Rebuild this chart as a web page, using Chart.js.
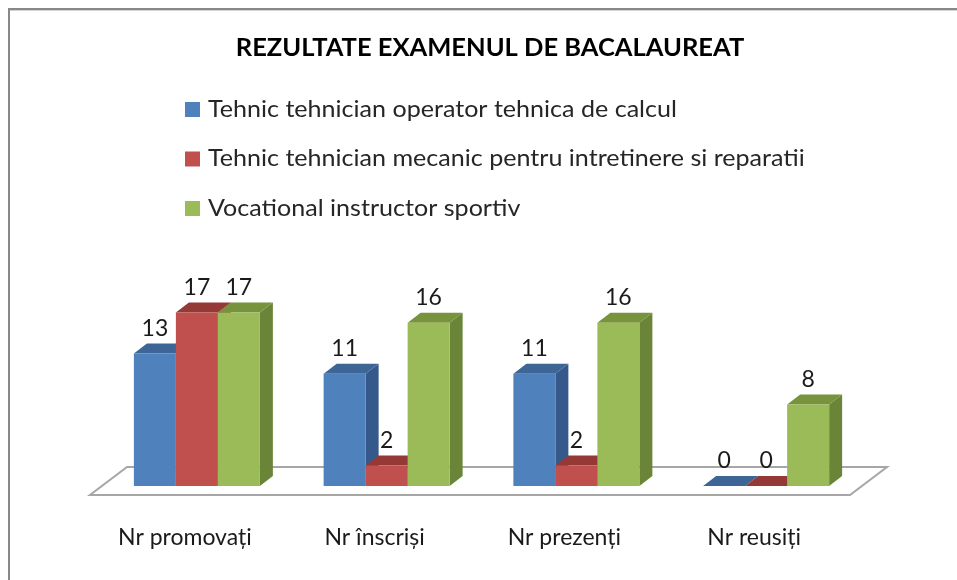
<!DOCTYPE html>
<html>
<head>
<meta charset="utf-8">
<title>Rezultate examenul de bacalaureat</title>
<script src="https://cdn.jsdelivr.net/npm/chart.js@4.4.1/dist/chart.umd.min.js"></script>
<style>
  html, body { margin: 0; padding: 0; background: #fff; }
  #wrap { width: 957px; height: 580px; }
</style>
</head>
<body>
<div id="wrap"><canvas id="bacChart" width="957" height="580"></canvas></div>
<script>
// data
const categories = ['Nr promovați', 'Nr înscriși', 'Nr prezenți', 'Nr reusiți'];
const seriesNames = [
  'Tehnic tehnician operator tehnica de calcul',
  'Tehnic tehnician mecanic pentru intretinere si reparatii',
  'Vocational instructor sportiv'
];
const tehnicCalcul = [13, 11, 11, 0];
const tehnicMecanic = [17, 2, 2, 0];
const vocationalSport = [17, 16, 16, 8];
const chartTitle = 'REZULTATE EXAMENUL DE BACALAUREAT';

// front / top / side shades for the fake 3d look
const shades = [
  { front: '#4F81BD', top: '#3D6596', side: '#34598A' },
  { front: '#C0504D', top: '#953936', side: '#8A3432' },
  { front: '#9BBB59', top: '#77933C', side: '#6A8537' }
];
const DX = 13, DY = 10;
const FONT = 'Lato, "Liberation Sans", sans-serif';

function poly(ctx, pts, fill) {
  ctx.beginPath();
  ctx.moveTo(pts[0][0], pts[0][1]);
  for (let i = 1; i < pts.length; i++) ctx.lineTo(pts[i][0], pts[i][1]);
  ctx.closePath();
  ctx.fillStyle = fill;
  ctx.fill();
}

// floor, sides and tops go under the bars Chart.js draws
const depthPlugin = {
  id: 'depth3d',
  beforeDatasetsDraw(chart) {
    const ctx = chart.ctx;
    const area = chart.chartArea;
    const zero = chart.scales.y.getPixelForValue(0);
    ctx.save();
    // floor
    ctx.beginPath();
    ctx.moveTo(area.left - 12, zero + 9);
    ctx.lineTo(area.right - 11, zero + 9);
    ctx.lineTo(area.right + 26, zero - 19);
    ctx.lineTo(area.left + 25, zero - 19);
    ctx.closePath();
    ctx.fillStyle = '#fff';
    ctx.fill();
    ctx.lineWidth = 2;
    ctx.strokeStyle = '#A6A6A6';
    ctx.stroke();

    const bars = [];
    chart.data.datasets.forEach((ds, i) => {
      chart.getDatasetMeta(i).data.forEach(el => bars.push({ el, c: shades[i] }));
    });
    bars.sort((a, b) => a.el.x - b.el.x);
    bars.forEach(({ el, c }) => {
      const l = el.x - el.width / 2, r = el.x + el.width / 2;
      const t = el.y, b = el.base;
      poly(ctx, [[r, b], [r + DX, b - DY], [r + DX, t - DY], [r, t]], c.side);
      poly(ctx, [[l, t], [r, t], [r + DX, t - DY], [l + DX, t - DY]], c.top);
    });
    ctx.restore();
  },
  afterDatasetsDraw(chart) {
    const ctx = chart.ctx;
    ctx.save();
    ctx.font = '23px ' + FONT;
    ctx.fillStyle = '#1a1a1a';
    ctx.textAlign = 'center';
    ctx.textBaseline = 'middle';
    chart.data.datasets.forEach((ds, i) => {
      chart.getDatasetMeta(i).data.forEach((el, j) => {
        ctx.fillText(String(ds.data[j]), el.x, el.y - 25);
      });
    });
    ctx.restore();
  }
};

// frame, title and the vertical legend
const textPlugin = {
  id: 'frameText',
  afterDraw(chart) {
    const ctx = chart.ctx;
    ctx.save();
    ctx.fillStyle = '#888';
    ctx.fillRect(8, 8, 949, 2);
    ctx.fillRect(8, 8, 2, 572);
    ctx.fillStyle = '#d4d4d4';
    ctx.fillRect(10, 10, 947, 1);

    ctx.fillStyle = '#000';
    ctx.font = 'bold 25.5px ' + FONT;
    ctx.textAlign = 'center';
    ctx.textBaseline = 'middle';
    ctx.fillText(chartTitle, 490, 48);

    ctx.textAlign = 'left';
    ctx.font = '24px ' + FONT;
    chart.data.datasets.forEach((ds, i) => {
      const y = 109 + i * 49.5;
      ctx.fillStyle = ds.backgroundColor;
      ctx.fillRect(185, y - 7, 15, 15);
      ctx.fillStyle = '#262626';
      ctx.save();
      ctx.translate(208, y);
      ctx.scale(1.045, 1);
      ctx.fillText(ds.label, 0, 0);
      ctx.restore();
    });
    ctx.restore();
  }
};

new Chart(document.getElementById('bacChart'), {
  type: 'bar',
  data: {
    labels: categories,
    datasets: [
      { label: seriesNames[0], data: tehnicCalcul, backgroundColor: shades[0].front },
      { label: seriesNames[1], data: tehnicMecanic, backgroundColor: shades[1].front },
      { label: seriesNames[2], data: vocationalSport, backgroundColor: shades[2].front }
    ]
  },
  options: {
    responsive: false,
    animation: false,
    layout: { padding: { top: 282, left: 102, right: 96, bottom: 30 } },
    datasets: { bar: { categoryPercentage: 0.664, barPercentage: 1.0 } },
    scales: {
      x: {
        grid: { display: false, drawTicks: false },
        border: { display: false },
        ticks: { padding: 38, labelOffset: -12, color: '#1a1a1a', font: { family: FONT, size: 23 }, maxRotation: 0 },
        afterFit(scale) { scale.height = 64; }
      },
      y: { display: false, min: 0, max: 20 }
    },
    plugins: {
      legend: { display: false },
      title: { display: false },
      tooltip: { enabled: false }
    }
  },
  plugins: [depthPlugin, textPlugin]
});
</script>
</body>
</html>
